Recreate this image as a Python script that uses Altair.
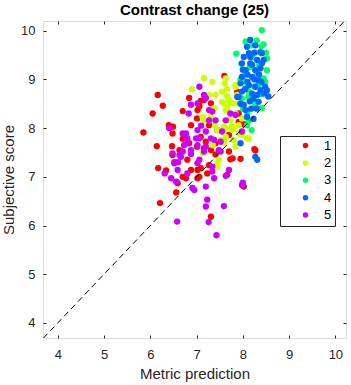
import altair as alt
import pandas as pd

# ---- data ----
group_labels = ["1", "2", "3", "4", "5"]
group_colors = ["#FF0000", "#CCFF00", "#00FF66", "#0066FF", "#CC00FF"]

g1 = [(6.16,8.68),(6.27,8.46),(6.05,8.30),(6.70,8.35),(6.84,8.62),(7.60,9.07),(5.85,7.91),(6.40,8.06),
      (6.49,8.03),(6.48,7.89),(6.14,7.63),(6.47,7.63),(6.48,7.45),(6.52,7.30),(6.17,7.18),(6.34,7.13),
      (6.70,7.00),(6.77,6.97),(6.56,6.68),(6.21,6.46),(7.31,6.18),(7.06,7.00),(7.02,7.14),(7.23,7.07),
      (7.27,7.24),(7.41,7.46),(7.70,7.52),(7.78,7.38),(7.95,7.37),(7.73,7.36),(8.25,7.57),(8.02,6.80),
      (7.20,7.72),(7.09,7.82),(7.01,8.20),(7.09,8.56),(7.31,8.51),(7.27,8.06),(7.45,7.96),(7.91,8.13),
      (6.70,7.78),(6.84,7.69),(6.63,7.55),(7.01,7.62),(6.80,7.35),(7.16,7.59),(7.41,7.69),(6.88,7.14),
      (7.16,8.58),(7.02,8.37),(7.91,8.30),(7.88,8.75),(7.70,7.86),(8.02,8.08),(7.66,7.04),(6.59,6.87),
      (7.02,6.97),(6.88,8.06),(7.06,8.45),(7.31,7.55),(6.66,7.52),(8.27,7.54),(7.09,7.18)]
g2 = [(7.16,9.03),(7.34,8.95),(6.90,8.80),(7.61,8.92),(7.66,8.80),(7.41,8.68),(7.27,8.68),(7.70,8.58),
      (7.55,8.54),(7.84,8.88),(7.80,8.51),(7.63,8.37),(7.84,8.30),(7.38,8.41),(7.13,8.23),(7.27,8.16),
      (7.70,8.16),(7.91,8.06),(7.59,8.03),(7.45,7.96),(7.77,7.96),(7.91,7.89),(8.13,7.79),(7.98,7.86),
      (7.59,8.51),(7.73,8.51),(7.16,8.16),(7.31,8.23),(7.77,8.03),(7.63,7.82),(7.52,7.76),(7.80,7.76),
      (7.84,7.62),(8.09,7.79),(7.48,7.35),(7.45,7.21),(7.66,8.41),(7.91,8.51),(7.88,8.68),(7.73,8.16),
      (7.63,8.00),(7.80,8.00),(7.45,7.28),(7.13,7.48),(7.63,9.02),(7.84,8.85),(7.55,8.75),(7.40,8.05),
      (7.60,7.70),(7.98,8.20),(7.35,7.65),(7.66,8.66)]
g3 = [(8.41,10.01),(8.06,9.78),(8.45,9.72),(8.40,9.68),(7.86,9.53),(7.97,9.32),(8.52,9.43),(8.52,9.19),
      (8.31,9.12),(8.45,9.02),(8.48,8.95),(8.06,8.95),(8.02,8.98),(8.23,8.54),(8.41,8.41),(7.98,8.61),
      (8.19,7.96),(8.13,8.16),(8.06,8.82),(8.13,8.75),(8.13,8.64),(8.27,8.48),(8.09,8.06),(8.20,9.70),
      (8.30,9.80),(8.15,9.25),(8.35,9.30),(8.05,9.10),(8.40,8.70),(8.25,8.85),(8.50,9.55),(8.00,8.40),
      (8.35,8.90),(8.20,9.45),(7.95,9.00),(8.10,8.30)]
g4 = [(8.16,9.81),(8.27,9.70),(8.09,9.67),(8.13,9.54),(8.16,9.46),(8.02,9.46),(8.41,9.54),(8.31,9.40),
      (8.41,9.33),(8.16,9.33),(7.98,9.33),(8.06,9.19),(8.27,9.19),(8.38,9.23),(7.98,9.05),(8.20,9.05),
      (8.34,8.98),(7.95,8.92),(8.13,8.88),(8.27,8.85),(8.38,8.78),(8.52,8.78),(7.98,8.75),(8.20,8.71),
      (7.91,8.64),(8.31,8.68),(8.45,8.71),(8.48,8.85),(7.88,8.64),(8.02,8.48),(8.06,8.37),(8.09,8.23),
      (8.23,8.19),(8.34,8.54),(8.23,8.61),(7.95,7.69),(8.27,7.41),(8.31,7.35),(8.38,9.56),(8.10,9.10),
      (8.25,9.00),(8.05,8.80),(8.35,9.10),(8.15,8.55),(8.00,9.20),(8.45,9.40),(8.30,8.40),(8.10,8.95),
      (8.20,9.30),(8.40,8.95),(7.95,8.50),(8.55,8.65),(8.18,8.40),(8.25,9.55)]
g5 = [(7.06,8.85),(7.20,8.62),(7.02,8.51),(6.83,8.30),(7.27,8.37),(7.16,8.68),(7.34,8.34),(6.88,8.48),
      (6.41,8.00),(6.70,7.89),(6.80,7.79),(7.02,7.96),(7.20,7.93),(6.99,7.79),(6.73,7.65),(7.02,7.65),
      (6.63,7.45),(6.88,7.55),(7.38,7.76),(7.48,7.55),(7.63,8.16),(7.73,8.30),(7.84,8.27),(7.98,7.93),
      (7.55,7.93),(6.52,7.28),(6.59,7.14),(6.80,7.07),(6.45,6.97),(6.56,6.90),(6.31,7.07),(6.91,6.77),
      (7.20,6.80),(7.38,6.97),(7.52,7.52),(7.63,7.02),(7.98,6.83),(8.00,6.88),(7.23,6.53),(7.20,6.39),
      (7.59,6.40),(6.58,6.08),(7.26,6.07),(7.43,5.80),(7.20,7.62),(7.06,7.35),(7.34,7.21),(7.70,7.14),
      (7.34,7.11),(7.02,7.28),(6.95,6.73),(6.66,7.41),(6.77,7.89),(7.06,7.79),(6.80,7.69),(7.31,7.79),
      (7.27,8.16),(7.41,8.16),(7.52,7.72),(6.70,7.52),(6.88,7.47),(7.16,7.52),(6.48,7.48),(6.60,7.30),
      (7.10,8.05)]
groups = [g1, g2, g3, g4, g5]

x_ticks = [4, 5, 6, 7, 8, 9, 10]
y_ticks = [4, 5, 6, 7, 8, 9, 10]
x_domain = [3.68, 10.23]
y_domain = [3.69, 10.2]

rows = []
for lab, pts in zip(group_labels, groups):
    for (mx, sy) in pts:
        rows.append({"metric": mx, "score": sy, "group": lab})
df = pd.DataFrame(rows)

lo = max(x_domain[0], y_domain[0])
hi = min(x_domain[1], y_domain[1])
diag = pd.DataFrame({"metric": [lo, hi], "score": [lo, hi]})
ticks_df = pd.DataFrame({"tx": x_ticks, "ty": y_ticks})

W, H = 303, 317
FONT = "Liberation Sans"
AX = "#262626"

xs = alt.Scale(domain=x_domain, nice=False, zero=False)
ys = alt.Scale(domain=y_domain, nice=False, zero=False)

points = alt.Chart(df).mark_circle(size=40, opacity=1).encode(
    x=alt.X("metric:Q", scale=xs,
            axis=alt.Axis(orient="bottom", values=x_ticks, ticks=False, domain=False, grid=False,
                          labelPadding=10, title="Metric prediction", titlePadding=5,
                          labelFontSize=13, titleFontSize=15, titleFontWeight="normal",
                          labelColor=AX, titleColor=AX, labelFont=FONT, titleFont=FONT)),
    y=alt.Y("score:Q", scale=ys,
            axis=alt.Axis(orient="left", values=y_ticks, ticks=False, domain=False, grid=False,
                          labelPadding=8, title="Subjective score", titlePadding=4,
                          labelFontSize=13, titleFontSize=15, titleFontWeight="normal",
                          labelColor=AX, titleColor=AX, labelFont=FONT, titleFont=FONT)),
    color=alt.Color("group:N", scale=alt.Scale(domain=group_labels, range=group_colors),
                    legend=alt.Legend(orient="none", legendX=237, legendY=115, title=None,
                                      symbolType="circle", symbolSize=30, symbolStrokeWidth=0,
                                      labelFontSize=13, labelFont=FONT, labelColor="#000000",
                                      padding=3, symbolOffset=16, labelOffset=12, rowPadding=3.4,
                                      strokeColor=AX, fillColor="white")),
    order=alt.Order("idx:Q"),
).transform_window(idx="row_number()")

line = alt.Chart(diag).mark_line(color="black", strokeDash=[6, 4], strokeWidth=1, clip=True).encode(
    x=alt.X("metric:Q", scale=xs, axis=None),
    y=alt.Y("score:Q", scale=ys, axis=None),
)

tick_axis = dict(labels=False, title=None, domain=False, grid=False, tickSize=3, tickColor=AX, tickWidth=1)
ticksA = alt.Chart(ticks_df).mark_point(opacity=0).encode(
    x=alt.X("tx:Q", scale=xs, axis=alt.Axis(orient="top", offset=-H, values=x_ticks, **tick_axis)),
    y=alt.Y("ty:Q", scale=ys, axis=alt.Axis(orient="right", offset=-W, values=y_ticks, **tick_axis)),
)
ticksB = alt.Chart(ticks_df).mark_point(opacity=0).encode(
    x=alt.X("tx:Q", scale=xs, axis=alt.Axis(orient="bottom", offset=-H, values=x_ticks, **tick_axis)),
    y=alt.Y("ty:Q", scale=ys, axis=alt.Axis(orient="left", offset=-W, values=y_ticks, **tick_axis)),
)

chart = alt.layer(points, line, ticksA, ticksB).resolve_axis(
    x="independent", y="independent"
).properties(
    width=W, height=H,
    title=alt.TitleParams("Contrast change (25)", font=FONT, fontSize=15, fontWeight="bold",
                          color="black", anchor="middle", offset=3),
    autosize=alt.AutoSizeParams(type="none"),
    padding={"left": 43, "top": 21, "right": 5, "bottom": 47},
).configure_view(stroke=AX, strokeWidth=1, fill="white").configure(background="white")

chart.save("out.html", embed_options={"renderer": "svg", "actions": False})
